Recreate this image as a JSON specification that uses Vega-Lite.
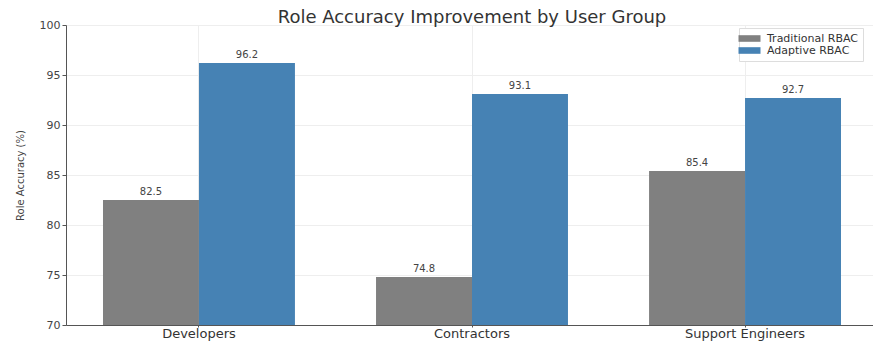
{
  "$schema": "https://vega.github.io/schema/vega-lite/v6.json",
  "autosize": {"type": "none"},
  "padding": {"left": 66, "top": 25, "right": 0, "bottom": 16},
  "width": 812,
  "height": 300,
  "background": "white",
  "title": {"text": "Role Accuracy Improvement by User Group", "font": "DejaVu Sans", "fontSize": 18, "fontWeight": "normal", "color": "#333333", "anchor": "middle", "offset": -8},
  "config": {
    "font": "DejaVu Sans",
    "view": {"stroke": null},
    "axis": {"labelFont": "DejaVu Sans", "titleFont": "DejaVu Sans", "labelColor": "#444444", "titleColor": "#444444", "gridColor": "#eeeeee", "domainColor": "#555555", "tickColor": "#555555"}
  },
  "data": {
    "values": [
      {"group": "Developers", "method": "Traditional RBAC", "value": 82.5},
      {"group": "Developers", "method": "Adaptive RBAC", "value": 96.2},
      {"group": "Contractors", "method": "Traditional RBAC", "value": 74.8},
      {"group": "Contractors", "method": "Adaptive RBAC", "value": 93.1},
      {"group": "Support Engineers", "method": "Traditional RBAC", "value": 85.4},
      {"group": "Support Engineers", "method": "Adaptive RBAC", "value": 92.7}
    ]
  },
  "encoding": {
    "x": {"field": "group", "type": "nominal", "sort": ["Developers", "Contractors", "Support Engineers"],
      "scale": {"paddingInner": 0.297, "paddingOuter": 0.1355},
      "axis": {"title": null, "labelAngle": 0, "labelFontSize": 13, "labelColor": "#333333", "bandPosition": 0.5, "grid": true, "gridColor": "#eeeeee", "tickSize": 2, "labelPadding": 0, "domain": true}},
    "xOffset": {"field": "method", "type": "nominal", "sort": ["Traditional RBAC", "Adaptive RBAC"], "scale": {"paddingInner": 0, "paddingOuter": 0}},
    "y": {"field": "value", "type": "quantitative", "scale": {"domain": [70, 100], "nice": false, "zero": false},
      "axis": {"title": "Role Accuracy (%)", "titleFontSize": 10, "titleFontWeight": "normal", "titlePadding": 14, "values": [70, 75, 80, 85, 90, 95, 100], "labelFontSize": 11, "tickSize": 4, "grid": true}}
  },
  "layer": [
    {
      "mark": {"type": "bar", "clip": true},
      "encoding": {
        "color": {"field": "method", "type": "nominal", "sort": ["Traditional RBAC", "Adaptive RBAC"],
          "scale": {"domain": ["Traditional RBAC", "Adaptive RBAC"], "range": ["#808080", "#4682b4"]},
          "legend": {"title": null, "orient": "none", "legendX": 673, "legendY": 3, "symbolType": "M-2,-0.6H2V0.6H-2Z", "symbolSize": 121, "symbolStrokeWidth": 0, "labelFontSize": 11, "labelColor": "#333333", "strokeColor": "#dddddd", "padding": 5, "fillColor": "white", "rowPadding": 0, "labelOffset": 12}}
      }
    },
    {
      "mark": {"type": "text", "baseline": "bottom", "dy": -3, "fontSize": 10, "color": "#444444"},
      "encoding": {"text": {"field": "value", "type": "quantitative", "format": ".1f"}}
    }
  ]
}
